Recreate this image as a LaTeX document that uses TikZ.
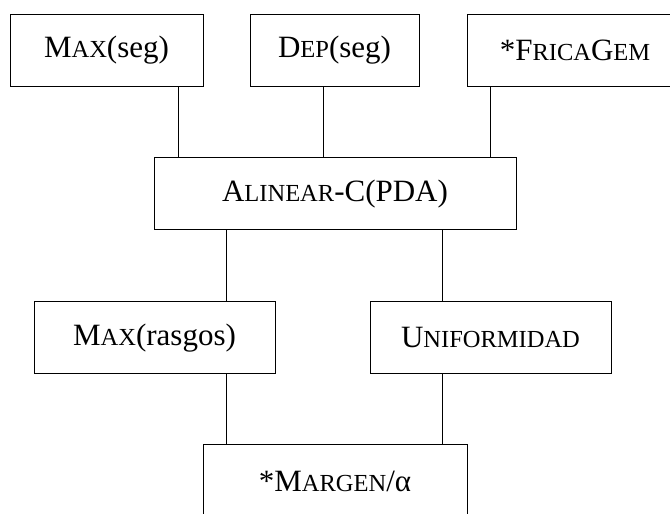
\documentclass[tikz,border=0pt]{standalone}
\usepackage{fontspec}
\setmainfont{Liberation Serif}
\newcommand\fsc[1]{{\fontsize{24.5pt}{28pt}\selectfont #1}}
\begin{document}
\begin{tikzpicture}[x=1pt,y=1pt,line width=1pt,
	rasgo/.style={draw,inner sep=0pt,minimum height=72pt,font=\fontsize{31pt}{36pt}\selectfont}]
			\useasboundingbox (0,0) rectangle (670,514);
			\node[rasgo,minimum width=193pt] (maxseg) at (106.5,463.5) {M\fsc{AX}(seg)};
			\node[rasgo,minimum width=169pt] (depseg) at (334.5,463.5) {D\fsc{EP}(seg)};
			\node[rasgo,minimum width=216pt] (frica) at (575,463.5) {*F\fsc{RICA}G\fsc{EM}};
			\node[rasgo,minimum width=362pt] (alinear) at (335,320) {A\fsc{LINEAR}-C(PDA)};
			\node[rasgo,minimum width=241pt] (maxrasgos) at (154.5,176) {M\fsc{AX}(rasgos)};
			\node[rasgo,minimum width=241pt] (unif) at (490.5,176) {U\fsc{NIFORMIDAD}};
			\node[rasgo,minimum width=264pt] (margen) at (335,33) {*M\fsc{ARGEN}/α};
			\coordinate (a1) at ([xshift=25pt]alinear.north west);
			\coordinate (a2) at ([xshift=-12pt]alinear.north);
			\coordinate (a3) at ([xshift=-26pt]alinear.north east);
			\coordinate (b1) at ([xshift=73pt]alinear.south west);
			\coordinate (b2) at ([xshift=-74pt]alinear.south east);
			\coordinate (c1) at ([xshift=24pt]margen.north west);
			\coordinate (c2) at ([xshift=-25pt]margen.north east);
			\draw (a1) -- (a1 |- maxseg.south);
			\draw (a2) -- (a2 |- depseg.south);
			\draw (a3) -- (a3 |- frica.south);
			\draw (b1) -- (b1 |- maxrasgos.north);
			\draw (b2) -- (b2 |- unif.north);
			\draw (c1) -- (c1 |- maxrasgos.south);
			\draw (c2) -- (c2 |- unif.south);
		\end{tikzpicture}
\end{document}
